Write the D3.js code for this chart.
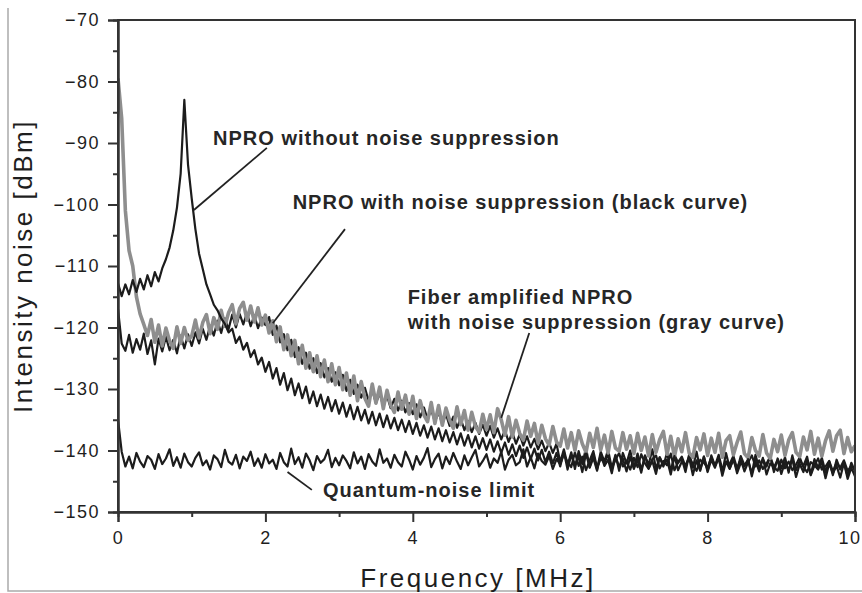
<!DOCTYPE html>
<html lang="en">
<head>
<meta charset="UTF-8">
<title>Intensity noise spectra</title>
<script src="https://d3js.org/d3.v7.min.js"></script>
<style>
    body { margin: 0; padding: 0; background: #fff; }
    svg { display: block; font-family: "Liberation Sans", Arial, Helvetica, sans-serif; }
    .tick text { font-size: 18px; letter-spacing: 1.5px; fill: #1e1e1e; }
    .axis-title { font-size: 26px; letter-spacing: 2.5px; fill: #1e1e1e; }
    .note { font-size: 20px; font-weight: bold; letter-spacing: 1px; fill: #262626; }
</style>
</head>
<body>
<svg id="chart" width="862" height="593"></svg>
<script>
const freqStep = 0.05;

const quantumNoise = [
    -135.0, -140.2, -142.6, -141.0, -142.9, -140.4, -141.8, -142.7, -140.9, -141.5, -143.0, -140.6, -142.2, -141.3, -139.8, -142.5, -141.1, -142.8, -140.5, -141.9,
    -142.6, -141.2, -140.3, -142.4, -141.6, -143.1, -140.8, -141.4, -142.7, -139.9, -141.8, -142.3, -140.7, -142.9, -141.0, -141.7, -140.2, -142.5, -141.3, -142.8,
    -140.6, -142.1, -141.5, -143.0, -140.4, -141.9, -142.6, -139.7, -142.2, -141.1, -142.8, -140.5, -141.6, -143.2, -140.9, -142.0, -141.4, -139.9, -142.7, -141.2,
    -142.4, -140.8, -141.7, -142.9, -140.3, -142.1, -141.0, -143.0, -140.6, -141.8, -142.5, -139.8, -142.0, -141.3, -142.8, -140.7, -141.9, -142.6, -140.2, -141.5,
    -143.1, -140.9, -142.3, -141.2, -139.6, -142.7, -141.4, -140.5, -142.9, -141.0, -142.2, -140.4, -141.8, -143.0, -140.8, -142.4, -141.1, -139.9, -142.6, -141.7,
    -140.6, -142.8, -141.3, -142.0, -140.2, -143.1, -141.5, -140.7, -142.4, -141.9, -139.8, -142.6, -141.1, -142.9, -140.5, -141.7, -142.3, -140.9, -143.0, -141.4,
    -142.2, -140.6, -141.9, -142.7, -140.3, -142.5, -141.0, -143.2, -141.6, -140.1, -142.8, -141.3, -142.0, -140.7, -142.9, -141.5, -140.4, -142.6, -141.8, -143.1,
    -141.2, -142.7, -140.6, -142.1, -143.0, -141.4, -140.8, -142.9, -141.7, -142.4, -140.5, -143.2, -141.9, -141.0, -142.6, -140.9, -142.3, -143.3, -141.5, -142.0,
    -142.8, -141.1, -142.5, -140.7, -143.1, -141.8, -142.2, -140.9, -142.9, -141.4, -143.4, -141.9, -140.8, -142.6, -141.6, -143.0, -142.1, -141.0, -142.7, -143.3,
    -141.5, -142.9, -141.8, -143.2, -142.3, -141.1, -142.7, -143.5, -141.9, -142.4, -141.3, -143.1, -142.6, -141.7, -143.4, -142.0, -142.8, -141.6, -143.3, -142.5,
    -143.0
];

const nproWithout = [
    -112.8, -114.9, -113.0, -114.6, -112.3, -114.2, -112.1, -113.8, -111.5, -113.3, -111.0, -112.5, -110.4, -108.9, -107.0, -104.2, -100.5, -95.0, -83.0, -93.5,
    -99.0, -104.0, -108.0, -110.5, -113.0, -114.6, -116.3, -117.2, -118.5, -119.4, -120.8, -120.2, -122.5, -121.5, -123.6, -122.5, -124.8, -123.7, -126.0, -124.9,
    -127.2, -125.6, -128.3, -126.6, -129.3, -127.4, -130.2, -128.3, -131.0, -129.1, -131.5, -129.6, -132.3, -130.4, -132.8, -130.9, -133.2, -131.3, -133.6, -131.8,
    -134.0, -132.2, -134.5, -132.6, -134.9, -132.9, -135.1, -133.4, -135.6, -133.7, -135.9, -134.0, -136.2, -134.3, -136.4, -134.7, -136.7, -135.0, -137.0, -135.2,
    -137.3, -135.5, -137.6, -135.9, -137.9, -136.1, -138.2, -136.4, -138.5, -136.7, -138.7, -137.0, -139.0, -137.2, -139.2, -137.5, -139.5, -137.7, -139.7, -138.0,
    -139.9, -138.2, -140.2, -138.5, -140.4, -138.7, -140.7, -139.0, -140.9, -139.2, -141.2, -139.5, -141.4, -139.7, -141.6, -139.9, -141.9, -140.2, -142.1, -140.4,
    -142.6, -140.2, -143.1, -140.7, -142.3, -141.0, -143.5, -140.5, -142.8, -141.2, -143.3, -140.6, -142.5, -141.5, -143.7, -140.9, -142.7, -141.3, -143.4, -141.0,
    -143.0, -141.4, -143.6, -140.8, -142.9, -141.7, -143.8, -141.1, -142.4, -141.5, -143.9, -140.9, -143.2, -141.8, -142.6, -141.2, -144.0, -141.6, -143.3, -141.0,
    -143.5, -141.5, -142.8, -141.1, -144.1, -141.8, -143.0, -141.3, -143.7, -142.0, -142.6, -141.4, -144.2, -141.7, -143.4, -141.2, -143.9, -142.1, -142.7, -141.6,
    -143.8, -141.9, -143.2, -141.4, -144.3, -142.2, -143.5, -141.7, -144.0, -142.4, -143.1, -141.8, -144.5, -142.1, -143.7, -142.5, -144.4, -142.0, -144.6, -142.8,
    -144.2
];

const nproWith = [
    -117.0, -122.6, -123.8, -121.2, -124.1, -121.9, -123.6, -121.0, -124.3, -122.1, -126.0, -121.8, -123.9, -121.5, -123.7, -122.0, -124.2, -121.3, -123.4, -121.1,
    -123.0, -120.8, -122.6, -120.2, -122.0, -119.7, -121.3, -118.9, -120.9, -118.5, -120.3, -117.9, -120.0, -117.8, -119.5, -117.6, -119.8, -118.0, -120.1, -118.4,
    -119.6, -118.3, -121.2, -119.7, -122.4, -121.1, -123.7, -122.0, -124.8, -123.2, -125.9, -124.1, -126.7, -125.0, -127.4, -125.8, -128.1, -126.6, -128.8, -127.3,
    -129.4, -127.7, -130.3, -128.5, -130.8, -129.3, -131.4, -129.8, -131.9, -130.2, -132.3, -130.7, -132.8, -131.1, -133.1, -131.6, -133.5, -131.9, -133.8, -132.3,
    -134.1, -132.5, -134.6, -133.0, -134.9, -133.4, -135.3, -133.8, -135.7, -134.1, -136.0, -134.5, -136.3, -134.8, -136.7, -135.2, -137.0, -135.5, -137.3, -135.8,
    -137.6, -136.0, -137.9, -136.4, -138.2, -136.7, -138.6, -137.0, -138.9, -137.4, -139.2, -137.7, -139.5, -138.1, -139.8, -138.4, -140.1, -138.7, -140.4, -138.9,
    -141.9, -139.8, -142.4, -140.3, -143.0, -140.1, -142.2, -139.6, -142.7, -140.6, -143.1, -140.2, -141.8, -139.9, -142.9, -140.7, -143.3, -140.4, -142.1, -140.0,
    -142.8, -140.5, -143.2, -140.9, -142.3, -139.8, -143.0, -141.1, -142.6, -140.3, -143.4, -140.7, -142.0, -141.3, -143.5, -140.6, -142.8, -140.2, -143.1, -141.0,
    -143.3, -140.8, -142.5, -141.2, -143.6, -140.4, -142.9, -141.5, -143.2, -140.9, -142.4, -141.6, -143.8, -140.7, -143.0, -141.4, -142.6, -141.0, -143.5, -141.3,
    -142.9, -141.1, -143.6, -140.8, -143.2, -141.7, -142.5, -141.0, -143.9, -141.4, -142.8, -141.2, -143.5, -141.8, -144.0, -141.5, -143.1, -141.9, -144.2, -142.0,
    -143.4
];

const fiberAmplified = [
    -79.5, -86.0, -101.0, -107.5, -110.0, -115.0, -117.8, -119.5, -121.3, -118.7, -122.4, -119.6, -123.0, -120.1, -122.2, -123.4, -119.9, -122.6, -120.0, -122.1,
    -121.4, -118.8, -121.7, -119.2, -117.9, -121.0, -118.4, -120.3, -117.2, -119.8, -117.6, -116.3, -119.4, -116.9, -115.9, -118.8, -116.5, -119.1, -116.8, -119.6,
    -118.0, -120.9, -118.9, -122.3, -119.9, -123.6, -121.2, -124.6, -122.1, -125.9, -122.9, -126.6, -124.1, -127.2, -124.6, -128.0, -125.3, -128.8, -125.9, -129.3,
    -126.5, -130.1, -127.4, -131.0, -127.9, -131.9, -128.8, -131.5, -132.8, -129.2, -132.3, -129.7, -133.2, -130.2, -132.6, -133.8, -130.5, -133.3, -131.0, -134.1,
    -131.2, -134.8, -131.9, -134.2, -135.3, -132.2, -135.6, -132.7, -135.9, -133.1, -135.1, -136.4, -132.9, -135.8, -133.5, -136.7, -133.8, -136.1, -137.0, -134.1,
    -136.6, -134.2, -137.1, -133.2, -135.0, -137.5, -134.5, -137.8, -135.1, -137.2, -138.3, -135.2, -137.7, -135.6, -138.8, -135.9, -138.1, -139.1, -136.1, -138.6,
    -139.3, -136.5, -139.6, -137.1, -140.0, -136.8, -138.9, -140.3, -137.2, -139.5, -136.4, -139.9, -137.5, -140.4, -136.9, -139.6, -140.1, -137.1, -139.8, -137.6,
    -140.5, -137.2, -140.0, -137.8, -140.9, -137.4, -140.3, -138.2, -136.9, -140.6, -137.7, -141.0, -138.1, -140.2, -137.1, -140.4, -141.1, -137.9, -139.9, -137.3,
    -140.8, -138.0, -140.3, -137.2, -141.1, -138.4, -137.6, -140.7, -138.7, -137.0, -140.5, -141.2, -137.9, -140.0, -140.9, -137.4, -140.4, -141.3, -138.2, -140.2,
    -137.5, -140.8, -138.3, -137.1, -140.3, -141.0, -137.8, -139.9, -136.9, -140.6, -138.0, -140.9, -138.4, -136.8, -140.1, -137.6, -136.7, -140.5, -137.9, -140.2,
    -139.2
];

const xTicks = [0, 2, 4, 6, 8, 10];
const xMinorTicks = [1, 3, 5, 7, 9];
const yTicks = [-150, -140, -130, -120, -110, -100, -90, -80, -70];
const yMinorTicks = [-145, -135, -125, -115, -105, -95, -85, -75];

// annotation text and leader lines, in data units (MHz, dBm)
const notes = [
    { text: 'NPRO without noise suppression', f: 1.29, db: -90.3 },
    { text: 'NPRO with noise suppression (black curve)', f: 2.37, db: -100.8 },
    { text: 'Fiber amplified NPRO', f: 3.93, db: -116.1 },
    { text: 'with noise suppression (gray curve)', f: 3.93, db: -120.2 },
    { text: 'Quantum-noise limit', f: 2.78, db: -147.6 }
];
const leaders = [
    [[2.02, -90.8], [1.03, -100.9]],
    [[3.08, -104.0], [2.10, -119.3]],
    [[5.58, -120.9], [5.20, -134.7]],
    [[2.30, -143.5], [2.63, -146.4]]
];

const svg = d3.select('#chart');
const plotLeft = 118, plotRight = 855, plotTop = 20, plotBottom = 512;

const x = d3.scaleLinear().domain([0, 10]).range([plotLeft, plotRight]);
const y = d3.scaleLinear().domain([-150, -70]).range([plotBottom, plotTop]);

// scan border
svg.append('path')
    .attr('d', 'M8,8 V591 H862')
    .attr('fill', 'none')
    .attr('stroke', '#aaa')
    .attr('stroke-width', 1.5);

svg.append('defs').append('clipPath').attr('id', 'plotClip')
    .append('rect').attr('x', plotLeft).attr('y', plotTop - 2)
    .attr('width', plotRight - plotLeft).attr('height', plotBottom - plotTop + 2);

const line = d3.line()
    .x((d, i) => x(i * freqStep))
    .y(d => y(d));

const plot = svg.append('g').attr('clip-path', 'url(#plotClip)');

function trace(values, color, width) {
    plot.append('path').datum(values)
        .attr('d', line).attr('fill', 'none')
        .attr('stroke', color).attr('stroke-width', width)
        .attr('stroke-linejoin', 'round');
}

trace(quantumNoise, '#1c1c1c', 2.2);
trace(nproWith, '#1c1c1c', 2.2);
trace(fiberAmplified, '#8e8e8e', 3.6);
trace(nproWithout, '#1c1c1c', 2.2);

// frame
svg.append('rect')
    .attr('x', plotLeft).attr('y', plotTop)
    .attr('width', plotRight - plotLeft).attr('height', plotBottom - plotTop)
    .attr('fill', 'none').attr('stroke', '#333').attr('stroke-width', 2);

// axes: major ticks with labels, minor ticks without
const xAxis = svg.append('g').attr('transform', `translate(0,${plotBottom})`)
    .call(d3.axisBottom(x).tickValues(xTicks).tickSize(10).tickPadding(9).tickFormat(d3.format('d')));
svg.append('g').attr('transform', `translate(0,${plotBottom})`)
    .call(d3.axisBottom(x).tickValues(xMinorTicks).tickSize(5).tickFormat(''));

// last label sits at the right edge of the window
xAxis.selectAll('.tick text').filter(d => d === 10)
    .attr('text-anchor', 'end').attr('x', 6);

svg.append('g').attr('transform', `translate(${plotLeft},0)`)
    .call(d3.axisLeft(y).tickValues(yTicks).tickSize(10).tickPadding(8).tickFormat(d3.format('d')));
svg.append('g').attr('transform', `translate(${plotLeft},0)`)
    .call(d3.axisLeft(y).tickValues(yMinorTicks).tickSize(5).tickFormat(''));

svg.selectAll('.domain').attr('stroke', '#333').attr('stroke-width', 2);
svg.selectAll('.tick line').attr('stroke', '#333').attr('stroke-width', 2);

// axis titles
svg.append('text').attr('class', 'axis-title')
    .attr('x', 478).attr('y', 587)
    .attr('text-anchor', 'middle')
    .text('Frequency [MHz]');

svg.append('text').attr('class', 'axis-title')
    .attr('transform', `translate(32,${(plotTop + plotBottom) / 2}) rotate(-90)`)
    .attr('text-anchor', 'middle')
    .text('Intensity noise [dBm]');

// annotations
svg.selectAll('.note').data(notes).enter().append('text')
    .attr('class', 'note')
    .attr('x', d => x(d.f)).attr('y', d => y(d.db))
    .text(d => d.text);

svg.selectAll('.leader').data(leaders).enter().append('line')
    .attr('class', 'leader')
    .attr('x1', d => x(d[0][0])).attr('y1', d => y(d[0][1]))
    .attr('x2', d => x(d[1][0])).attr('y2', d => y(d[1][1]))
    .attr('stroke', '#222').attr('stroke-width', 1.8);
</script>
</body>
</html>
